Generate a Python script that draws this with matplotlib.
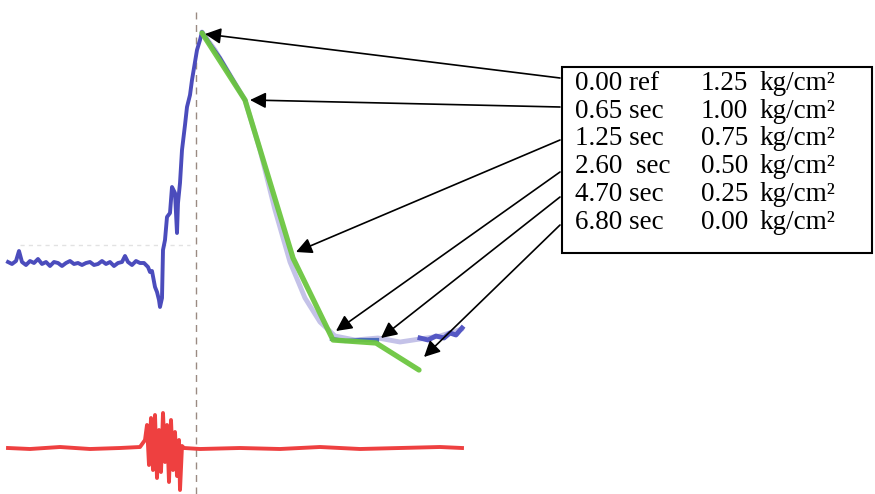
import matplotlib
matplotlib.use('Agg')
from matplotlib import pyplot as plt
from matplotlib.patches import Rectangle

# everything is in picture pixels (x right, y down)
blue_x = [8, 12, 16, 19, 22, 26, 30, 34, 38, 42, 46, 50, 54, 58, 62, 66, 70, 74, 78, 82, 86, 90, 94, 98,
          102, 106, 110, 114, 118, 122, 125, 128, 132, 136, 140, 144, 148, 150, 152, 155, 157, 159, 160, 162,
          163, 165, 167, 170, 172, 175, 177, 178, 180, 182, 185, 187, 190, 192, 195, 197, 200, 202,
          210, 220, 230, 240, 245]
blue_y = [262, 264, 261, 251, 262, 265, 261, 263, 259, 264, 262, 266, 262, 263, 266, 263, 261, 264, 263, 265,
          263, 262, 265, 264, 261, 264, 262, 266, 263, 262, 256, 262, 265, 261, 263, 263, 267, 272, 271, 287,
          292, 300, 307, 298, 250, 240, 217, 213, 187, 193, 233, 203, 183, 150, 125, 107, 95, 80, 62, 50, 40, 32,
          44, 58, 75, 92, 100]

lav_x = [202, 215, 230, 245, 260, 275, 290, 305, 320, 335, 355, 378, 400, 420, 440, 462]
lav_y = [32, 50, 75, 100, 150, 210, 262, 298, 322, 336, 340, 338, 342, 339, 336, 329]

blue_tail_x = [332, 345, 360, 377]
blue_tail_y = [339, 341, 340, 340]
blue_end_x = [420, 428, 436, 444, 450, 456, 462]
blue_end_y = [338, 340, 336, 338, 333, 335, 328]

green_x = [202, 245, 293, 333, 376, 419]
green_y = [33, 100, 258, 340, 343, 370]

red_x = [8, 30, 60, 90, 120, 140, 145, 147, 149, 151, 153, 155, 157, 159, 161, 163, 165, 167, 169, 171,
         173, 175, 177, 179, 180, 182, 184, 200, 240, 280, 320, 360, 400, 440, 462]
red_y = [448, 449, 447, 449, 448, 447, 440, 425, 465, 418, 470, 415, 478, 430, 472, 413, 462, 425, 482, 420,
         470, 432, 476, 440, 490, 446, 448, 449, 448, 449, 447, 449, 448, 447, 448]

labels_time = ['0.00 ref', '0.65 sec', '1.25 sec', '2.60  sec', '4.70 sec', '6.80 sec']
labels_press = ['1.25', '1.00', '0.75', '0.50', '0.25', '0.00']
row_y = [83, 111, 138, 166, 194, 222]

arrow_start = [(560, 78), (560, 107), (560, 140), (560, 172), (560, 197), (560, 225)]
arrow_end = [(205, 34), (250, 100), (296, 252), (336, 331), (381, 338), (424, 357)]

fig = plt.figure(figsize=(8.75, 4.94), dpi=100)
ax = fig.add_axes([0, 0, 1, 1])
ax.set_xlim(0, 875)
ax.set_ylim(494, 0)
ax.axis('off')

ax.plot([20, 190], [245, 245], color='#e2e2e2', lw=1, ls=(0, (3, 3)))
ax.plot([196, 196], [12, 494], color='#9a8a82', lw=1, ls=(0, (5, 4)))

ax.plot(lav_x, lav_y, color='#c4c2e8', lw=3.5, solid_capstyle='round')
ax.plot(blue_x, blue_y, color='#4b4cbc', lw=2.8)
ax.plot(blue_tail_x, blue_tail_y, color='#4b6cbc', lw=3)
ax.plot(blue_end_x, blue_end_y, color='#5558c4', lw=3.5)
ax.plot(green_x, green_y, color='#6cc640', lw=3.8, solid_capstyle='round', alpha=0.95)

ax.plot(red_x, red_y, color='#ee4040', lw=2.8)

ax.add_patch(Rectangle((562, 67), 310, 186, fill=False, ec='black', lw=1.5))
for i in range(6):
    ax.text(575, row_y[i], labels_time[i], family='Liberation Serif', fontsize=19.5, va='center')
    ax.text(701, row_y[i], labels_press[i], family='Liberation Serif', fontsize=19.5, va='center')
    ax.text(759, row_y[i], 'kg/cm²', family='Liberation Serif', fontsize=19.5, va='center')

for s, e in zip(arrow_start, arrow_end):
    ax.annotate('', xy=e, xytext=s,
                arrowprops=dict(arrowstyle='-|>', color='black', lw=1.2,
                                mutation_scale=24, shrinkA=0, shrinkB=0))

fig.savefig('out.png', dpi=100)
